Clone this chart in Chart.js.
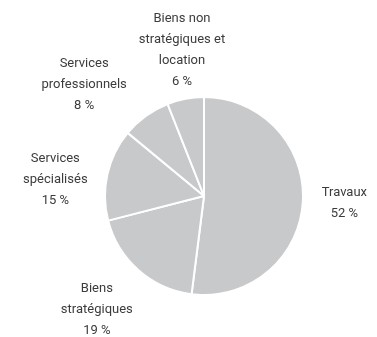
<!DOCTYPE html>
<html>
<head>
<meta charset="utf-8">
<script src="https://cdn.jsdelivr.net/npm/chart.js@4/dist/chart.umd.min.js"></script>
<style>
html,body{margin:0;padding:0;background:#fff;}
#wrap{width:377px;height:337px;}
</style>
</head>
<body>
<div id="wrap"><canvas id="c" width="377" height="337"></canvas></div>
<script>
// Data
const categories = [
  ['Travaux'],
  ['Biens', 'stratégiques'],
  ['Services', 'spécialisés'],
  ['Services', 'professionnels'],
  ['Biens non', 'stratégiques et', 'location']
];
const shares = [52, 19, 15, 8, 6];
const valueLabels = ['52 %', '19 %', '15 %', '8 %', '6 %'];

const FONT = '13px Roboto, "Liberation Sans", sans-serif';
const LINE_H = 21;

const outsideLabels = {
  id: 'outsideLabels',
  afterDatasetsDraw(chart, args, opts) {
    const ctx = chart.ctx;
    const meta = chart.getDatasetMeta(0);
    ctx.save();
    ctx.font = FONT;
    ctx.fillStyle = opts.color;
    ctx.textAlign = 'center';
    ctx.textBaseline = 'middle';
    meta.data.forEach((arc, i) => {
      const p = arc.getProps(['x', 'y', 'startAngle', 'endAngle', 'outerRadius'], true);
      const mid = (p.startAngle + p.endAngle) / 2;
      const dx = Math.cos(mid), dy = Math.sin(mid);
      const lines = categories[i].concat([valueLabels[i]]);
      const w = Math.max(...lines.map(l => ctx.measureText(l).width));
      const h = lines.length * LINE_H;
      const r = p.outerRadius + opts.pad;
      const nudge = opts.nudge[i] || [0, 0];
      const cx = p.x + r * dx + dx * w / 2 + nudge[0];
      const cy = p.y + r * dy + dy * h / 2 + nudge[1];
      const top = cy - h / 2 + LINE_H / 2;
      lines.forEach((l, k) => ctx.fillText(l, cx, top + k * LINE_H));
    });
    ctx.restore();
  }
};

new Chart(document.getElementById('c'), {
  type: 'pie',
  data: {
    labels: categories.map(c => c.join(' ')),
    datasets: [{
      data: shares,
      backgroundColor: '#c8c9cb',
      borderColor: '#ffffff',
      borderWidth: 2
    }]
  },
  options: {
    responsive: false,
    animation: false,
    layout: { padding: { left: 104, right: 73, top: 96, bottom: 41 } },
    plugins: {
      legend: { display: false },
      tooltip: { enabled: false },
      outsideLabels: {
        color: '#3c3c3c',
        pad: 18,
        nudge: [[1, -1], [-6, 2], [-3, 16], [-26, 9], [8, 10]]
      }
    }
  },
  plugins: [outsideLabels]
});
</script>
</body>
</html>
